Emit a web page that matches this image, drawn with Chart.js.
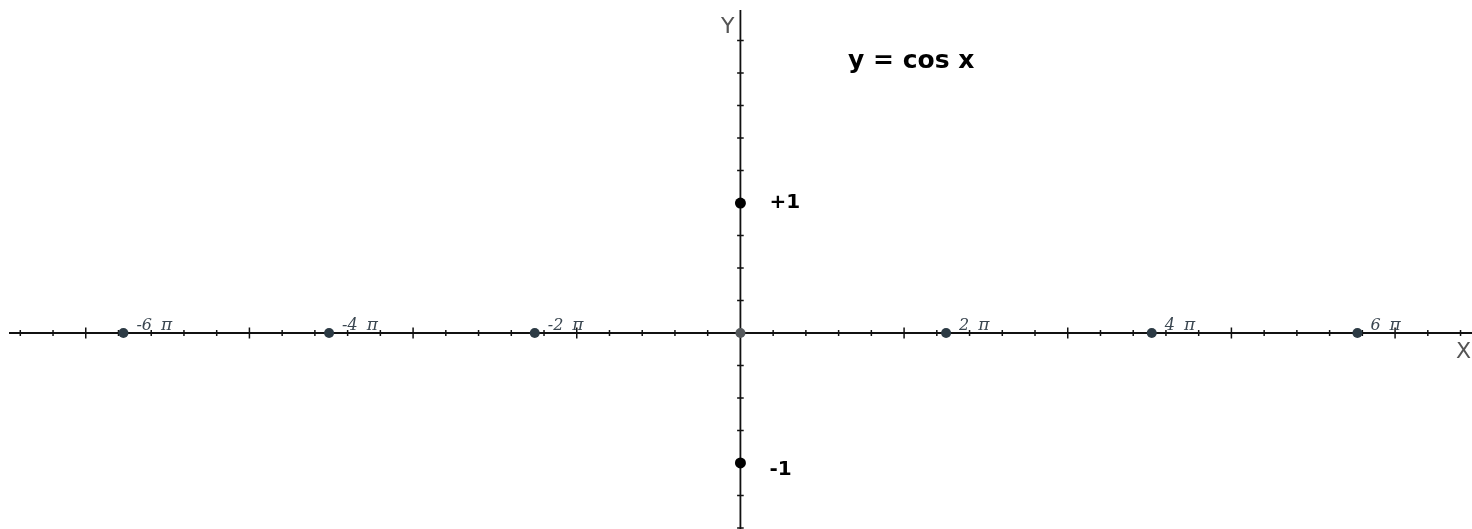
<!DOCTYPE html>
<html lang="en">
<head>
    <meta charset="UTF-8">
    <title>y = cos x</title>
    <script src="https://cdn.jsdelivr.net/npm/chart.js"></script>
    <style>
        html, body {
            margin: 0;
            padding: 0;
            background: #ffffff;
        }

        .chart-container {
            position: relative;
            width: 1472px;
            height: 529px;
        }
    </style>
</head>
<body>
    <div class="chart-container">
        <canvas id="cosChart"></canvas>
    </div>

    <script>
        // multiples of pi marked on the x axis, with their labels
        const piMultiples = [-6, -4, -2, 0, 2, 4, 6];
        const piLabels = ['-6', '-4', '-2', '', '2', '4', '6'];

        // the two extreme values of cos x, marked on the y axis
        const yMarks = [1, -1];
        const yMarkLabels = ['+1', '-1'];

        // visible window of the plane
        const xRange = [-22.62, 22.35];
        const yRange = [-1.508, 2.562];

        // tick steps along each axis
        const xTickStep = 1;
        const xMajorEvery = 5;
        const yTickStep = 0.25;

        const axisPlugin = {
            id: 'axisPlugin',
            beforeDatasetsDraw(chart) {
                const { ctx, scales: { x, y } } = chart;
                const x0 = x.getPixelForValue(0);
                const y0 = y.getPixelForValue(0);

                ctx.save();
                ctx.strokeStyle = '#111';
                ctx.lineWidth = 1.8;

                // axis lines
                ctx.beginPath();
                ctx.moveTo(9, y0);
                ctx.lineTo(chart.width, y0);
                ctx.moveTo(x0, 10);
                ctx.lineTo(x0, chart.height);
                ctx.stroke();

                // x ticks, longer every fifth one
                ctx.lineWidth = 1.5;
                ctx.beginPath();
                for (let v = Math.ceil(xRange[0]); v <= xRange[1]; v += xTickStep) {
                    if (v === 0) continue;
                    const px = x.getPixelForValue(v);
                    const half = v % xMajorEvery === 0 ? 5.5 : 3;
                    ctx.moveTo(px, y0 - half);
                    ctx.lineTo(px, y0 + half);
                }
                // y ticks
                for (let v = -1.5; v <= 2.25; v += yTickStep) {
                    if (v === 0) continue;
                    const py = y.getPixelForValue(v);
                    ctx.moveTo(x0 - 3.3, py);
                    ctx.lineTo(x0 + 3.3, py);
                }
                ctx.stroke();

                // axis names
                ctx.fillStyle = '#555';
                ctx.font = '22px "DejaVu Sans", sans-serif';
                ctx.textBaseline = 'alphabetic';
                ctx.textAlign = 'left';
                ctx.fillText('Y', 721, 33);
                ctx.fillText('X', 1456, 358);
                ctx.restore();
            },
            afterDatasetsDraw(chart) {
                const { ctx, scales: { x, y } } = chart;
                const y0 = y.getPixelForValue(0);
                const x0 = x.getPixelForValue(0);

                ctx.save();
                // pi labels on the x axis
                ctx.fillStyle = '#3a4650';
                ctx.textBaseline = 'alphabetic';
                ctx.textAlign = 'left';
                piMultiples.forEach((m, i) => {
                    if (!piLabels[i]) return;
                    const px = x.getPixelForValue(m * Math.PI);
                    ctx.font = 'italic 16px "DejaVu Serif", serif';
                    ctx.fillText(piLabels[i], px + 13, y0 - 3);
                    const w = ctx.measureText(piLabels[i]).width;
                    ctx.font = 'italic 17px "DejaVu Serif", serif';
                    ctx.fillText('π', px + 13 + w + 9, y0 - 3);
                });

                // +1 / -1 labels
                ctx.fillStyle = '#000';
                ctx.font = 'bold 20px "DejaVu Sans", sans-serif';
                ctx.textBaseline = 'middle';
                yMarks.forEach((v, i) => {
                    const py = y.getPixelForValue(v);
                    ctx.fillText(yMarkLabels[i], x0 + 29, py + (v < 0 ? 7 : 0));
                });

                // function name
                ctx.textBaseline = 'alphabetic';
                ctx.font = 'bold 25px "DejaVu Sans", sans-serif';
                ctx.fillText('y = cos x', 848, 68);
                ctx.restore();
            }
        };

        function initializeChart() {
            const ctx = document.getElementById('cosChart').getContext('2d');
            new Chart(ctx, {
                type: 'scatter',
                data: {
                    datasets: [
                        {
                            label: 'multiples of pi',
                            data: piMultiples.map(m => ({ x: m * Math.PI, y: 0 })),
                            pointRadius: 5,
                            pointBackgroundColor: piMultiples.map(m => m === 0 ? '#55595c' : '#2c3a44'),
                            pointBorderWidth: 0,
                            clip: false
                        },
                        {
                            label: 'extremes',
                            data: yMarks.map(v => ({ x: 0, y: v })),
                            pointRadius: 5.5,
                            pointBackgroundColor: '#000',
                            pointBorderWidth: 0,
                            clip: false
                        }
                    ]
                },
                options: {
                    responsive: true,
                    maintainAspectRatio: false,
                    animation: false,
                    layout: { padding: 0, autoPadding: false },
                    scales: {
                        x: { type: 'linear', min: xRange[0], max: xRange[1], display: false },
                        y: { type: 'linear', min: yRange[0], max: yRange[1], display: false }
                    },
                    plugins: {
                        legend: { display: false },
                        tooltip: { enabled: false }
                    }
                },
                plugins: [axisPlugin]
            });
        }

        document.addEventListener('DOMContentLoaded', () => {
            initializeChart();
        });
    </script>
</body>
</html>
